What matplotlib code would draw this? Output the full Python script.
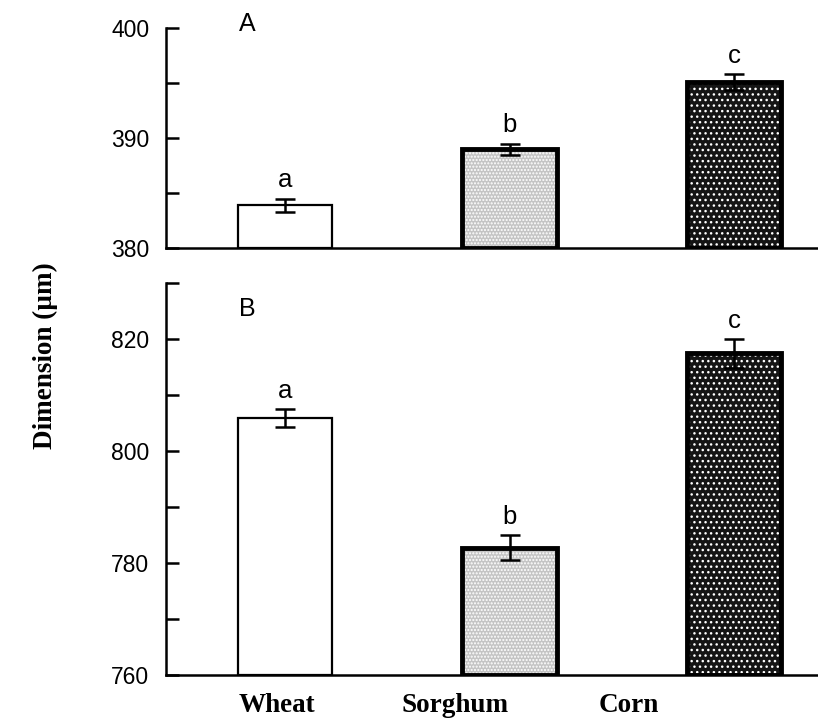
import matplotlib
matplotlib.use('Agg')
import matplotlib.pyplot as plt

grains = ['Wheat', 'Sorghum', 'Corn']
label_pos = [-0.035, 0.755, 1.53]

# panel A
a_mean = [383.9, 389.0, 395.1]
a_err = [0.6, 0.5, 0.7]
a_letters = ['a', 'b', 'c']

# panel B
b_mean = [806.0, 782.8, 817.5]
b_err = [1.6, 2.2, 2.6]
b_letters = ['a', 'b', 'c']

faces = ['white', '#c4c4c4', '#151515']
hatch_col = ['white', 'white', 'white']
hatches = [None, '.....', '...']
edge_w = [1.6, 3.5, 3.5]

plt.rcParams['font.family'] = 'Liberation Sans'
plt.rcParams['hatch.linewidth'] = 1.0

fig = plt.figure(figsize=(8.18, 7.19), dpi=100)
axA = fig.add_axes([0.203, 0.655, 0.796, 0.306])
axB = fig.add_axes([0.203, 0.061, 0.796, 0.545])

x = range(len(grains))


def draw(ax, means, errs, letters, lo, hi, step, minor):
    for i in x:
        ax.bar(i, means[i] - lo, 0.42, bottom=lo, color=faces[i],
               edgecolor=hatch_col[i], hatch=hatches[i], linewidth=0, zorder=2)
        ax.bar(i, means[i] - lo, 0.42, bottom=lo, fill=False,
               edgecolor='black', linewidth=edge_w[i], zorder=3)
    ax.errorbar(list(x), means, yerr=errs, fmt='none', ecolor='black',
                elinewidth=1.8, capsize=7, capthick=1.8, zorder=4)
    for i in x:
        ax.annotate(letters[i], (i, means[i] + errs[i]), xytext=(0, 8),
                    textcoords='offset points', ha='center', va='baseline',
                    fontsize=18.5)
    ax.set_xlim(-0.53, 2.37)
    ax.set_ylim(lo, hi)
    ax.set_yticks(range(lo, hi + 1, minor), minor=True)
    ax.set_yticks(range(lo, hi + 1, step))
    ax.tick_params(axis='y', which='both', direction='in', length=9,
                   width=1.8, labelsize=16.5, pad=12)
    for s in ['top', 'right']:
        ax.spines[s].set_visible(False)
    for s in ['left', 'bottom']:
        ax.spines[s].set_linewidth(1.8)


draw(axA, a_mean, a_err, a_letters, 380, 400, 10, 5)
axA.set_xticks([])
axA.text(0.125, 1.018, 'A', transform=axA.transAxes, ha='center',
         va='center', fontsize=18)

draw(axB, b_mean, b_err, b_letters, 760, 830, 20, 10)
axB.set_yticks(range(760, 821, 20))
axB.set_xticks(label_pos, grains)
axB.tick_params(axis='x', length=0, pad=13)
for lab in axB.get_xticklabels():
    lab.set_fontfamily('Liberation Serif')
    lab.set_fontweight('bold')
    lab.set_fontsize(19.5)
axB.text(0.125, 0.935, 'B', transform=axB.transAxes, ha='center',
         va='center', fontsize=18)

fig.text(0.055, 0.506, 'Dimension (\u00b5m)', rotation=90, ha='center',
         va='center', fontsize=19.5, fontweight='bold',
         family='Liberation Serif')

fig.savefig('out.png', dpi=100)
